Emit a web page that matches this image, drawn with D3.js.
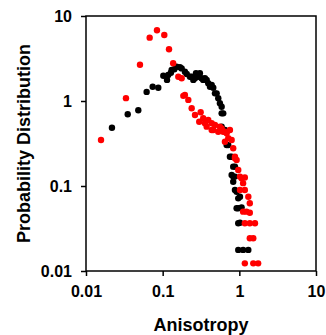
<!DOCTYPE html>
<html>
<head>
<meta charset="utf-8">
<script src="https://cdn.jsdelivr.net/npm/d3@7"></script>
<style>
  body { margin: 0; background: #fff; }
  text { font-family: "Liberation Sans", Arial, sans-serif; font-weight: bold; }
</style>
</head>
<body>
<div id="chart"></div>
<script>
// data (x = anisotropy, y = probability)
var blackX = [0.0218, 0.035, 0.0481, 0.0618, 0.0741, 0.0877, 0.102, 0.114, 0.118, 0.128, 0.131, 0.142,
  0.152, 0.168, 0.177, 0.195, 0.206, 0.227, 0.239, 0.251, 0.264, 0.272, 0.291, 0.306, 0.322, 0.338,
  0.356, 0.375, 0.393, 0.414, 0.436, 0.457, 0.481, 0.506, 0.531, 0.558, 0.588, 0.588, 0.617, 0.588,
  0.649, 0.683, 0.717, 0.754, 0.794, 0.832, 0.877, 0.794, 0.832, 0.877, 0.832, 0.877, 0.922, 0.968,
  1.02, 0.922, 0.968, 1.07, 0.968, 1.02, 0.968, 1.12, 1.31];
var blackY = [0.485, 0.698, 0.778, 1.28, 1.47, 1.43, 1.98, 1.77, 2.02, 2.15, 2.32, 2.36,
  2.53, 2.5, 2.42, 2.21, 2.08, 1.93, 1.93, 1.77, 1.85, 2.12, 1.93, 2.12, 1.85, 1.77,
  1.85, 1.77, 1.62, 1.47, 1.54, 1.43, 1.23, 1.23, 1.08, 0.94, 0.857, 0.716, 0.716, 0.499,
  0.456, 0.303, 0.303, 0.221, 0.221, 0.169, 0.169, 0.135, 0.129, 0.129, 0.112, 0.0897, 0.0857, 0.0716,
  0.0748, 0.0547, 0.0547, 0.0561, 0.0364, 0.037, 0.0177, 0.0177, 0.0177];

var redX = [0.0157, 0.0332, 0.0506, 0.0677, 0.0843, 0.105, 0.121, 0.137, 0.160, 0.177, 0.186, 0.195,
  0.216, 0.239, 0.264, 0.313, 0.300, 0.338, 0.356, 0.393, 0.436, 0.375, 0.436, 0.457, 0.481, 0.531,
  0.558, 0.588, 0.617, 0.649, 0.683, 0.717, 0.754, 0.794, 0.649, 0.832, 0.877, 0.877, 0.922, 0.968,
  1.02, 1.18, 1.07, 1.12, 1.02, 1.18, 1.31, 1.37, 1.12, 1.24, 1.37, 1.18, 1.37, 1.60, 1.37, 1.52,
  1.18, 1.52, 1.76];
var redY = [0.348, 1.08, 2.67, 5.56, 6.79, 5.98, 4.06, 2.78, 1.93, 1.85, 1.15, 1.18,
  1.03, 0.821, 0.684, 0.736, 0.571, 0.626, 0.547, 0.598, 0.547, 0.499, 0.456, 0.456, 0.522, 0.435,
  0.499, 0.477, 0.435, 0.435, 0.417, 0.364, 0.456, 0.348, 0.332, 0.278, 0.221, 0.212, 0.202, 0.154,
  0.129, 0.126, 0.123, 0.108, 0.0897, 0.0897, 0.0748, 0.0626, 0.0499, 0.0499, 0.0485, 0.0364, 0.0364, 0.0364, 0.0243, 0.0243,
  0.0123, 0.0123, 0.0123];

var tickValues = [0.01, 0.1, 1, 10];
var tickLabels = ["0.01", "0.1", "1", "10"];

var W = 326, H = 335;
var mLeft = 86, mRight = 316, mTop = 16, mBottom = 271;

var svg = d3.select("#chart").append("svg").attr("width", W).attr("height", H);

var x = d3.scaleLog().domain([0.01, 10]).range([mLeft, mRight]);
var y = d3.scaleLog().domain([0.01, 10]).range([mBottom, mTop]);

// 軸
var xAxis = d3.axisBottom(x).tickValues(tickValues)
  .tickFormat(function(d, i) { return tickLabels[i]; })
  .tickSize(5).tickPadding(10);
var yAxis = d3.axisLeft(y).tickValues(tickValues)
  .tickFormat(function(d, i) { return tickLabels[i]; })
  .tickSize(5).tickPadding(9);

var gx = svg.append("g").attr("transform", "translate(0," + mBottom + ")").call(xAxis);
var gy = svg.append("g").attr("transform", "translate(" + mLeft + ",0)").call(yAxis);

[gx, gy].forEach(function(g) {
  g.select(".domain").remove();
  g.selectAll("line").attr("stroke", "#000").attr("stroke-width", 1.5);
  g.selectAll("text").attr("font-size", 16).attr("fill", "#000")
    .style("font-family", "'Liberation Sans', Arial, sans-serif").style("font-weight", "bold");
});

// 枠
svg.append("rect")
  .attr("x", mLeft).attr("y", mTop)
  .attr("width", mRight - mLeft).attr("height", mBottom - mTop)
  .attr("fill", "none").attr("stroke", "#000").attr("stroke-width", 1.5);

// points
function drawPoints(xs, ys, color) {
  var pts = xs.map(function(v, i) { return { x: v, y: ys[i] }; });
  svg.append("g").selectAll("circle").data(pts).enter().append("circle")
    .attr("cx", function(d) { return x(d.x); })
    .attr("cy", function(d) { return y(d.y); })
    .attr("r", 3.2)
    .attr("fill", color);
}
drawPoints(blackX, blackY, "#000");
drawPoints(redX, redY, "#ff0000");

// labels
svg.append("text")
  .attr("x", (mLeft + mRight) / 2).attr("y", 331)
  .attr("text-anchor", "middle").attr("font-size", 18)
  .text("Anisotropy");

svg.append("text")
  .attr("transform", "translate(30," + (mTop + mBottom) / 2 + ") rotate(-90)")
  .attr("text-anchor", "middle").attr("font-size", 18)
  .text("Probability Distribution");
</script>
</body>
</html>
